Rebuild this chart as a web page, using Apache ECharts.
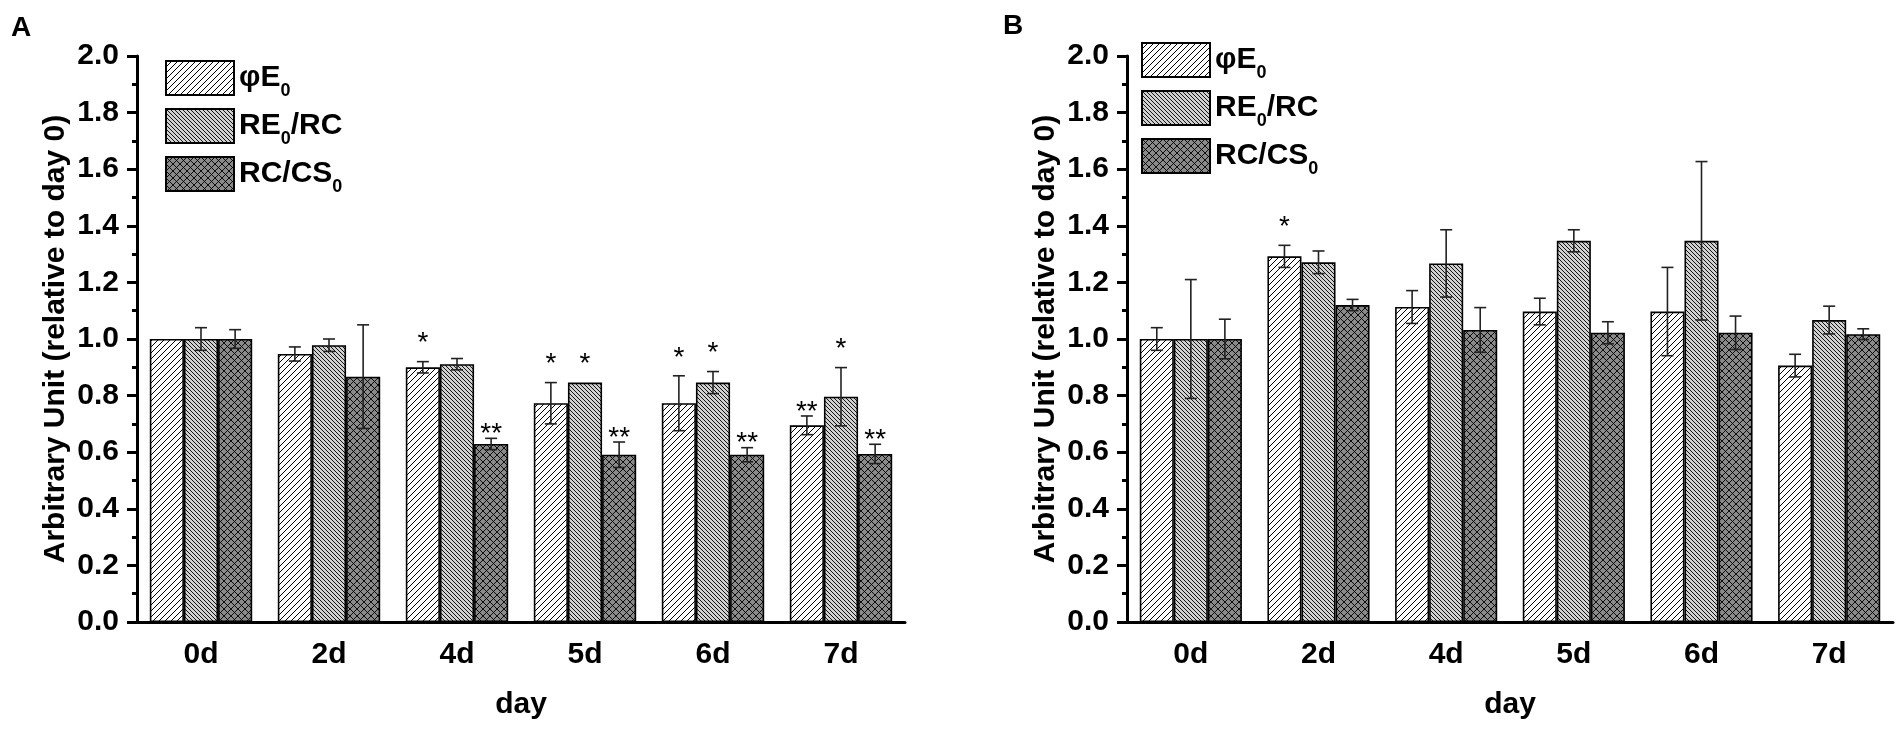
<!DOCTYPE html>
<html>
<head>
<meta charset="utf-8">
<script src="https://cdn.jsdelivr.net/npm/echarts@6/dist/echarts.min.js"></script>
<style>
  html, body { margin: 0; padding: 0; background: #fff; }
  #main { width: 1904px; height: 729px; }
</style>
</head>
<body>
<div id="main"></div>
<script>
// categories
var days = ['0d', '2d', '4d', '5d', '6d', '7d'];
var seriesNames = ['φE0', 'RE0/RC', 'RC/CS0'];
var yTicks = [0, 0.2, 0.4, 0.6, 0.8, 1.0, 1.2, 1.4, 1.6, 1.8, 2.0];

// panel A
var phiA    = [1.00, 0.947, 0.900, 0.773, 0.773, 0.695];
var phiErrA = [0, 0.025, 0.020, 0.073, 0.097, 0.033];
var reA     = [1.00, 0.978, 0.911, 0.846, 0.846, 0.796];
var reErrA  = [0.040, 0.022, 0.020, 0, 0.039, 0.103];
var rcA     = [1.00, 0.867, 0.629, 0.591, 0.591, 0.594];
var rcErrA  = [0.033, 0.183, 0.020, 0.045, 0.025, 0.034];
var phiSigA = ['', '', '*', '*', '*', '**'];
var reSigA  = ['', '', '', '*', '*', '*'];
var rcSigA  = ['', '', '**', '**', '**', '**'];

// panel B
var phiB    = [1.00, 1.292, 1.113, 1.097, 1.097, 0.906];
var phiErrB = [0.040, 0.039, 0.058, 0.047, 0.156, 0.040];
var reB     = [1.00, 1.271, 1.267, 1.347, 1.347, 1.067];
var reErrB  = [0.210, 0.040, 0.119, 0.039, 0.280, 0.049];
var rcB     = [1.00, 1.120, 1.032, 1.022, 1.022, 1.017];
var rcErrB  = [0.070, 0.020, 0.079, 0.039, 0.059, 0.019];
var phiSigB = ['', '*', '', '', '', ''];
var reSigB  = ['', '', '', '', '', ''];
var rcSigB  = ['', '', '', '', '', ''];

var FONT = 'Liberation Sans, Arial, sans-serif';
var CAT_GAP = 0.2;

// hatch fills
function hatch(bg, size, mode, lw) {
  var c = document.createElement('canvas');
  c.width = size; c.height = size;
  var g = c.getContext('2d');
  g.fillStyle = bg;
  g.fillRect(0, 0, size, size);
  g.strokeStyle = '#000';
  g.lineWidth = lw;
  function line(x0, y0, x1, y1) { g.beginPath(); g.moveTo(x0, y0); g.lineTo(x1, y1); g.stroke(); }
  [-size, 0, size].forEach(function (o) {
    if (mode !== 'back') line(o, size, o + size, 0);
    if (mode !== 'fwd') line(o, 0, o + size, size);
  });
  return { image: c, repeat: 'repeat' };
}
var fills = [
  hatch('#ffffff', 6, 'fwd', 1),
  hatch('#d0d0d0', 4, 'back', 0.9),
  hatch('#8a8a8a', 7, 'cross', 0.9)
];

function legendFmt(name) {
  return { 'φE0': 'φE{s|0}', 'RE0/RC': 'RE{s|0}/RC', 'RC/CS0': 'RC/CS{s|0}' }[name];
}

function errData(vals, errs, sigs) {
  var data = [], marks = [];
  for (var k = 0; k < 3; k++) {
    for (var i = 0; i < days.length; i++) {
      data.push([i, k, vals[k][i], errs[k][i]]);
      marks.push(sigs[k][i]);
    }
  }
  return { data: data, marks: marks };
}

function errSeries(xi, yi, set) {
  return {
    type: 'custom',
    xAxisIndex: xi,
    yAxisIndex: yi,
    z: 10,
    silent: true,
    clip: false,
    encode: { x: 0, y: 2 },
    data: set.data,
    renderItem: function (params, api) {
      var cat = api.value(0), k = api.value(1), v = api.value(2), e = api.value(3);
      var catW = api.size([1, 0])[0];
      var barW = catW * (1 - CAT_GAP) / 3;
      var base = api.coord([cat, v]);
      var x = base[0] + (k - 1) * barW;
      var children = [];
      var topY = base[1];
      var style = { stroke: '#222', lineWidth: 1.6 };
      if (e > 0) {
        var p1 = api.coord([cat, v + e])[1];
        var p2 = api.coord([cat, v - e])[1];
        topY = p1;
        children.push({ type: 'line', shape: { x1: x, y1: p1, x2: x, y2: p2 }, style: style });
        children.push({ type: 'line', shape: { x1: x - 6, y1: p1, x2: x + 6, y2: p1 }, style: style });
        children.push({ type: 'line', shape: { x1: x - 6, y1: p2, x2: x + 6, y2: p2 }, style: style });
      }
      var mark = set.marks[params.dataIndex];
      if (mark) {
        children.push({
          type: 'text',
          x: x,
          y: topY - (mark.length > 1 ? 12 : 26) + 8,
          style: { text: mark, font: '28px ' + FONT, fill: '#000', align: 'center', verticalAlign: 'middle' }
        });
      }
      return { type: 'group', children: children };
    }
  };
}

function barSeries(name, k, vals, xi, yi) {
  return {
    name: name,
    type: 'bar',
    xAxisIndex: xi,
    yAxisIndex: yi,
    data: vals,
    barGap: '0%',
    barCategoryGap: (CAT_GAP * 100) + '%',
    itemStyle: { color: fills[k], borderColor: '#000', borderWidth: 1.6 },
    emphasis: { disabled: true }
  };
}

function xAxes(gi) {
  return [{
    type: 'category',
    gridIndex: gi,
    data: days,
    position: 'bottom',
    name: 'day',
    nameLocation: 'middle',
    nameGap: 68,
    nameTextStyle: { fontSize: 30, fontWeight: 'bold', fontFamily: FONT, color: '#000' },
    axisLine: { lineStyle: { color: '#000', width: 3 } },
    axisTick: { alignWithLabel: true, length: 12, lineStyle: { width: 3, color: '#000' } },
    axisLabel: { interval: 0, margin: 18, fontSize: 30, fontWeight: 'bold', fontFamily: FONT, color: '#000' }
  }, {
    type: 'category',
    gridIndex: gi,
    data: days,
    position: 'bottom',
    axisLine: { show: false },
    axisTick: { interval: 0, length: 5, lineStyle: { width: 3, color: '#000' } },
    axisLabel: { show: false }
  }];
}

function yAxis(gi) {
  return {
    type: 'value',
    gridIndex: gi,
    min: yTicks[0],
    max: yTicks[yTicks.length - 1],
    interval: yTicks[1] - yTicks[0],
    name: 'Arbitrary Unit (relative to day 0)',
    nameLocation: 'middle',
    nameGap: 66,
    nameTextStyle: { fontSize: 30, fontWeight: 'bold', fontFamily: FONT, color: '#000' },
    splitLine: { show: false },
    axisLine: { show: true, lineStyle: { color: '#000', width: 3 } },
    axisTick: { show: true, length: 10, lineStyle: { width: 3, color: '#000' } },
    minorTick: { show: true, splitNumber: 2, length: 5, lineStyle: { width: 3, color: '#000' } },
    axisLabel: {
      margin: 18, fontSize: 30, fontWeight: 'bold', fontFamily: FONT, color: '#000',
      formatter: function (v) { return v.toFixed(1); }
    }
  };
}

function legend(left, top) {
  return {
    left: left,
    top: top,
    orient: 'vertical',
    icon: 'rect',
    itemWidth: 68,
    itemHeight: 34,
    itemGap: 8,
    selectedMode: false,
    data: seriesNames,
    formatter: legendFmt,
    textStyle: {
      fontSize: 30, fontWeight: 'bold', fontFamily: FONT, color: '#000',
      rich: { s: { fontSize: 18, fontWeight: 'bold', fontFamily: FONT, color: '#000', padding: [26, 0, 0, 0] } }
    }
  };
}

var setA = errData([phiA, reA, rcA], [phiErrA, reErrA, rcErrA], [phiSigA, reSigA, rcSigA]);
var setB = errData([phiB, reB, rcB], [phiErrB, reErrB, rcErrB], [phiSigB, reSigB, rcSigB]);

var myChart = echarts.init(document.getElementById('main'));
myChart.setOption({
  animation: false,
  backgroundColor: '#fff',
  title: [
    { text: 'A', left: 6, top: 9, textStyle: { fontSize: 28, fontWeight: 'bold', fontFamily: FONT, color: '#000' } },
    { text: 'B', left: 998, top: 7, textStyle: { fontSize: 28, fontWeight: 'bold', fontFamily: FONT, color: '#000' } }
  ],
  legend: [legend(160, 55), legend(1136, 37)],
  grid: [
    { left: 137, top: 56, width: 768, height: 566 },
    { left: 1127, top: 56, width: 766, height: 566 }
  ],
  xAxis: xAxes(0).concat(xAxes(1)),
  yAxis: [yAxis(0), yAxis(1)],
  series: [
    barSeries(seriesNames[0], 0, phiA, 0, 0),
    barSeries(seriesNames[1], 1, reA, 0, 0),
    barSeries(seriesNames[2], 2, rcA, 0, 0),
    barSeries(seriesNames[0], 0, phiB, 2, 1),
    barSeries(seriesNames[1], 1, reB, 2, 1),
    barSeries(seriesNames[2], 2, rcB, 2, 1),
    errSeries(0, 0, setA),
    errSeries(2, 1, setB)
  ]
});
</script>
</body>
</html>
